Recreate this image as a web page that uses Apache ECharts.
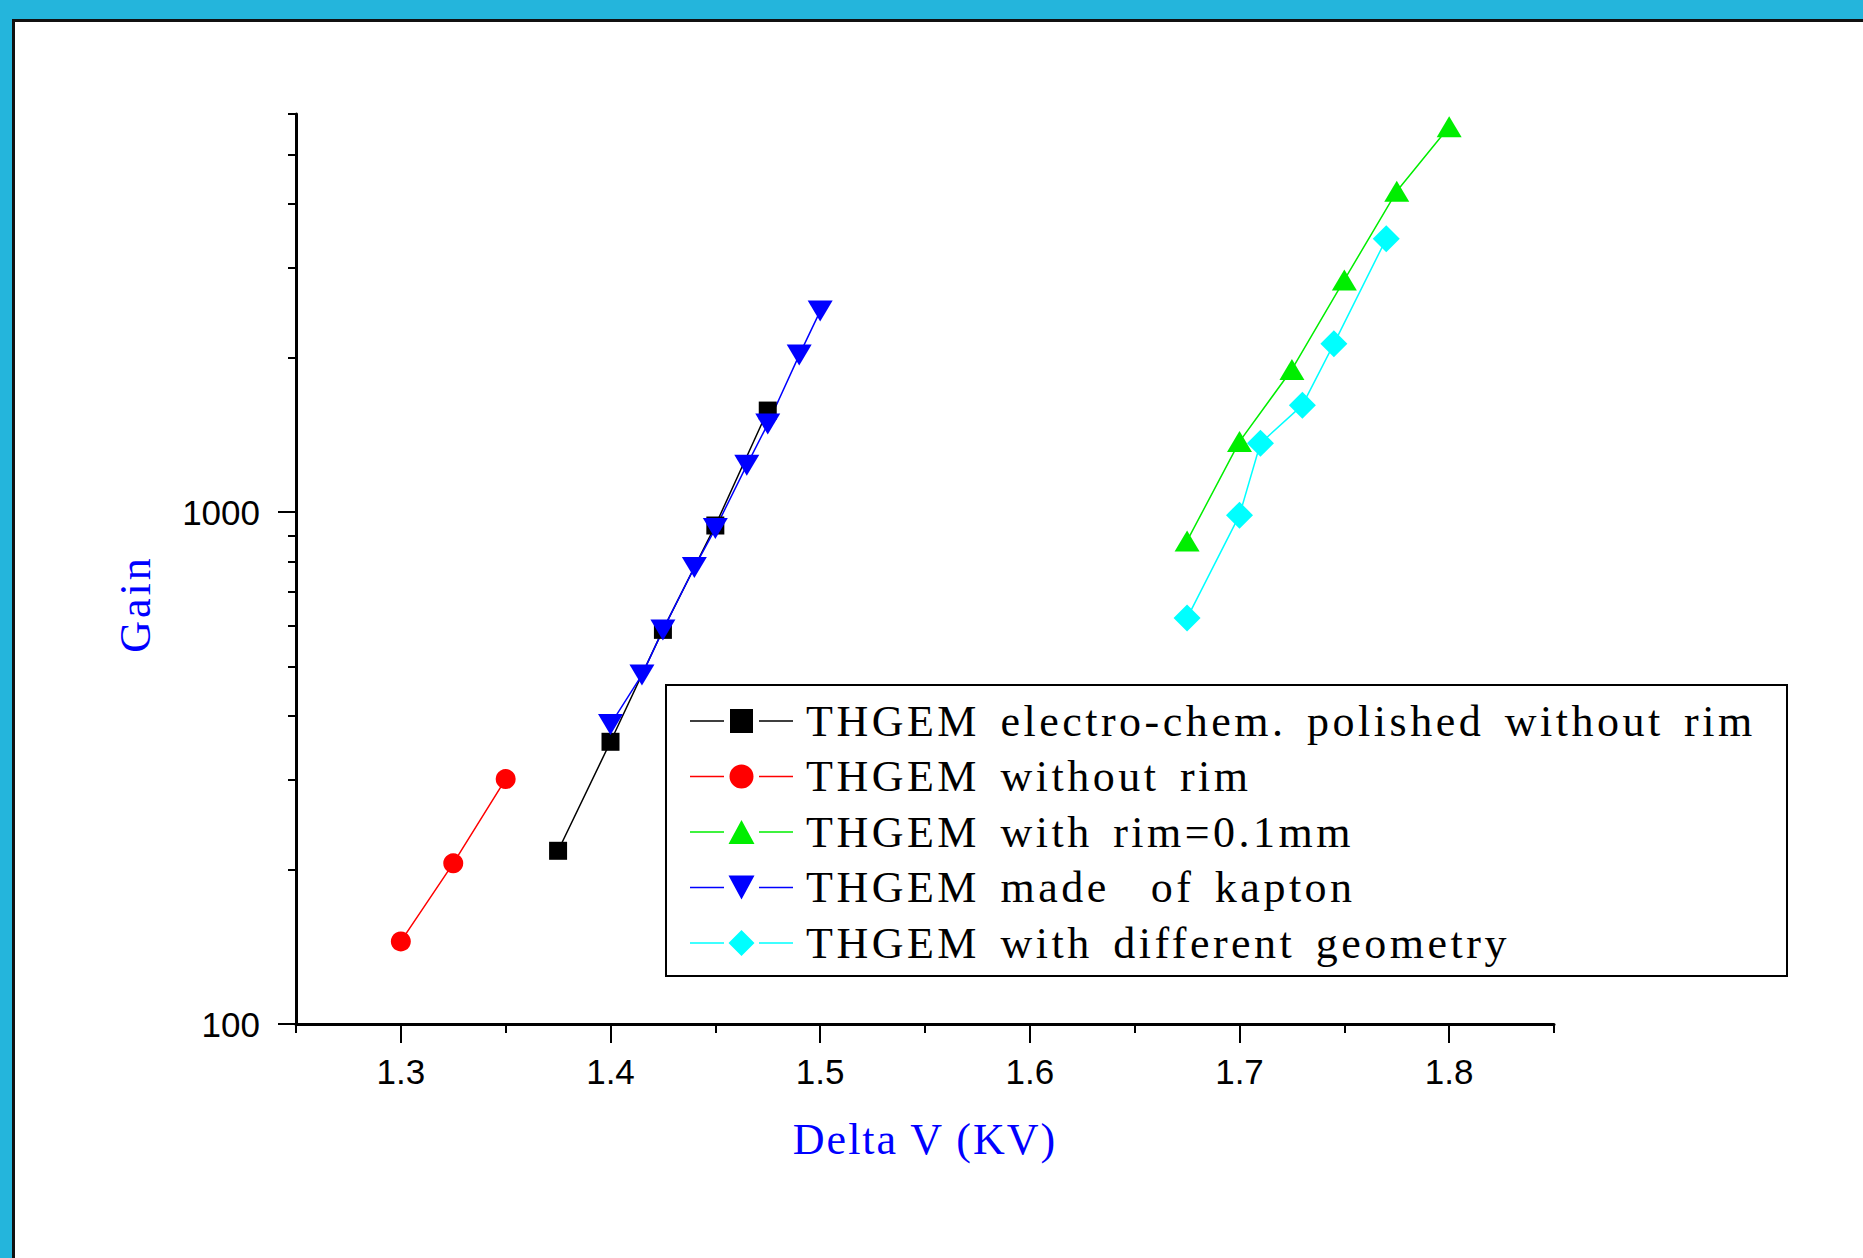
<!DOCTYPE html>
<html>
<head>
<meta charset="utf-8">
<title>THGEM gain vs Delta V</title>
<script src="https://cdn.jsdelivr.net/npm/echarts@6/dist/echarts.min.js"></script>
<style>
  html, body { margin: 0; padding: 0; }
  body { width: 1863px; height: 1258px; background: #24b5dc; position: relative; overflow: hidden; }
  .panel {
    position: absolute; left: 12px; top: 19px; right: 0; bottom: 0;
    background: #fff; border-top: 3px solid #111; border-left: 3px solid #111;
  }
  #chart { position: absolute; left: 0; top: 0; width: 1863px; height: 1258px; }
</style>
</head>
<body>
<div class="panel"></div>
<div id="chart"></div>
<script>
// values
const voltBlack = [1.375, 1.4, 1.425, 1.45, 1.475]
const gainBlack = [218, 356, 589, 942, 1580]

const voltRed = [1.3, 1.325, 1.35]
const gainRed = [145, 206, 301]

const voltGreen = [1.675, 1.7, 1.725, 1.75, 1.775, 1.8]
const gainGreen = [879, 1374, 1901, 2844, 4237, 5665]

const voltBlue = [1.4, 1.415, 1.425, 1.44, 1.45, 1.465, 1.475, 1.49, 1.5]
const gainBlue = [385, 481, 589, 780, 929, 1236, 1487, 2028, 2472]

const voltCyan = [1.675, 1.7, 1.71, 1.73, 1.745, 1.77]
const gainCyan = [621, 987, 1364, 1619, 2133, 3422]

const seriesNames = [
  'THGEM electro-chem. polished without rim',
  'THGEM without rim',
  'THGEM with rim=0.1mm',
  'THGEM made  of kapton',
  'THGEM with different geometry',
]

const xMajorTicks = [1.3, 1.4, 1.5, 1.6, 1.7, 1.8]
const xMinorTicks = [1.25, 1.35, 1.45, 1.55, 1.65, 1.75, 1.85]
const yMajorTicks = [100, 1000]
const yMinorTicks = [200, 300, 400, 500, 600, 700, 800, 900, 2000, 3000, 4000, 5000, 6000]

const xTitle = 'Delta V (KV)'
const yTitle = 'Gain'

const serif = 'Liberation Serif'
const sans = 'Liberation Sans'

// legend icons: line - gap - marker - gap - line (Origin style)
const legendLine = 'M0,13.75h34v1.5h-34Z M69,13.75h34v1.5h-34Z '
const legendMarkers = [
  'M40,2.5h23v24h-23Z',
  'M39.5,14.5a12,12 0 1,0 24,0a12,12 0 1,0 -24,0Z',
  'M51.5,2.5L64.5,26.5L38.5,26.5Z',
  'M38.5,2.5L64.5,2.5L51.5,26.5Z',
  'M51.5,1.5L64.5,14.5L51.5,27.5L38.5,14.5Z',
]

function pairs(xs, ys) {
  return xs.map((x, i) => [x, ys[i]])
}

function makeSeries(name, xs, ys, color, symbol, size, rotate) {
  return {
    name: name,
    type: 'line',
    data: pairs(xs, ys),
    symbol: symbol,
    symbolSize: size,
    symbolRotate: rotate || 0,
    showAllSymbol: true,
    lineStyle: { color: color, width: 1.5 },
    itemStyle: { color: color, borderWidth: 0 },
    emphasis: { disabled: true },
  }
}

const chart = echarts.init(document.getElementById('chart'), null, { renderer: 'svg' })

const tickLine = { color: '#000', width: 2 }

const option = {
  animation: false,
  grid: { left: 296, right: 309, top: 114, bottom: 234 },
  legend: {
    orient: 'vertical',
    left: 690,
    top: 699,
    padding: 0,
    itemGap: 11.5,
    itemWidth: 103,
    itemHeight: 29,
    data: seriesNames.map((name, i) => ({
      name: name,
      icon: 'path://' + legendLine + legendMarkers[i],
    })),
    selectedMode: false,
    textStyle: {
      fontFamily: serif,
      fontSize: 44,
      lineHeight: 44,
      color: '#000',
      padding: [0, 0, 0, 8],
    },
  },
  xAxis: [
    {
      type: 'value',
      min: 1.25,
      max: 1.85,
      position: 'bottom',
      name: xTitle,
      nameLocation: 'middle',
      nameGap: 93,
      nameTextStyle: { color: '#0000ff', fontFamily: serif, fontSize: 44 },
      axisLine: { lineStyle: { color: '#000', width: 3 } },
      axisTick: { customValues: xMajorTicks, length: 19, lineStyle: tickLine },
      axisLabel: {
        customValues: xMajorTicks,
        margin: 30,
        fontFamily: sans,
        fontSize: 35,
        color: '#000',
      },
      splitLine: { show: false },
    },
    {
      // minor ticks only
      type: 'value',
      min: 1.25,
      max: 1.85,
      position: 'bottom',
      offset: 0,
      axisLine: { show: false },
      axisTick: { customValues: xMinorTicks, length: 9, lineStyle: tickLine },
      axisLabel: { show: false },
      splitLine: { show: false },
    },
  ],
  yAxis: [
    {
      type: 'log',
      logBase: 10,
      min: 100,
      max: 6000,
      position: 'left',
      name: yTitle,
      nameLocation: 'middle',
      nameGap: 139,
      nameTextStyle: {
        color: '#0000ff',
        fontFamily: serif,
        fontSize: 44,
        padding: [0, 70, 0, 0],
      },
      axisLine: { show: true, lineStyle: { color: '#000', width: 3 } },
      axisTick: { customValues: yMajorTicks, length: 18, lineStyle: tickLine },
      axisLabel: {
        customValues: yMajorTicks,
        margin: 36,
        fontFamily: sans,
        fontSize: 35,
        color: '#000',
        formatter: (v) => String(Math.round(v)),
      },
      splitLine: { show: false },
    },
    {
      type: 'log',
      logBase: 10,
      min: 100,
      max: 6000,
      position: 'left',
      offset: 0,
      axisLine: { show: false },
      axisTick: { customValues: yMinorTicks, length: 8, lineStyle: tickLine },
      axisLabel: { show: false },
      splitLine: { show: false },
    },
  ],
  graphic: [
    {
      type: 'rect',
      shape: { x: 666, y: 685, width: 1121, height: 291 },
      style: { fill: 'none', stroke: '#000', lineWidth: 2 },
      silent: true,
    },
  ],
  series: [
    makeSeries(seriesNames[0], voltBlack, gainBlack, '#000000', 'rect', 18),
    makeSeries(seriesNames[1], voltRed, gainRed, '#ff0000', 'circle', 20),
    makeSeries(seriesNames[2], voltGreen, gainGreen, '#00ee00', 'triangle', [25, 21]),
    makeSeries(seriesNames[3], voltBlue, gainBlue, '#0000ff', 'triangle', [25, 21], 180),
    makeSeries(seriesNames[4], voltCyan, gainCyan, '#00ffff', 'diamond', 27),
  ],
}

chart.setOption(option)

// Origin-style spaced lettering for the serif texts
function spaceOutText() {
  document.querySelectorAll('#chart text').forEach((t) => {
    const s = t.textContent
    if (s.indexOf('THGEM') === 0) {
      t.style.letterSpacing = '3.5px'
      t.style.wordSpacing = '6px'
      t.style.whiteSpace = 'pre'
    } else if (s === xTitle) {
      t.style.letterSpacing = '2px'
    } else if (s === yTitle) {
      t.style.letterSpacing = '3px'
    }
  })
}
chart.on('finished', spaceOutText)
spaceOutText()
setTimeout(spaceOutText, 50)
</script>
</body>
</html>
